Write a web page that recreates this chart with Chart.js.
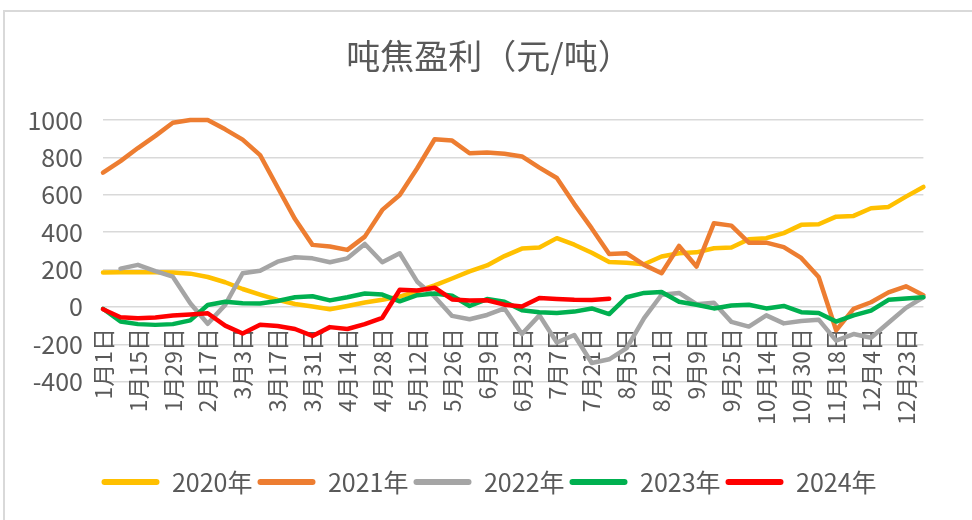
<!DOCTYPE html>
<html><head><meta charset="utf-8">
<script src="https://cdn.jsdelivr.net/npm/chart.js@4.4.1/dist/chart.umd.min.js"></script>
<style>
html,body{margin:0;padding:0;background:#fff;overflow:hidden;}
#wrap{position:relative;width:972px;height:520px;}
#frame{position:absolute;left:3px;top:10px;width:1200px;height:800px;border:2px solid #d9d9d9;box-sizing:border-box;pointer-events:none;}
canvas{position:absolute;left:0;top:0;}
</style></head><body>
<div id="wrap"><canvas id="c" width="972" height="520"></canvas><div id="frame"></div></div>
<script>
const chartTitle = '吨焦盈利（元/吨）';
const categories = ['1月1日','1月8日','1月15日','1月22日','1月29日','2月10日','2月17日','2月24日','3月3日','3月10日','3月17日','3月24日','3月31日','4月7日','4月14日','4月21日','4月28日','5月5日','5月12日','5月19日','5月26日','6月2日','6月9日','6月16日','6月23日','6月30日','7月7日','7月14日','7月21日','7月28日','8月5日','8月12日','8月21日','8月28日','9月9日','9月16日','9月25日','10月8日','10月14日','10月21日','10月30日','11月6日','11月18日','11月25日','12月4日','12月11日','12月23日','12月30日'];
const seriesNames = ['2020年','2021年','2022年','2023年','2024年'];
const y2020 = [184,186,186,185,184,178,160,132,96,66,38,16,2,-12,5,24,38,55,84,115,152,190,222,272,312,318,368,333,290,240,236,228,270,287,292,314,318,362,368,395,439,442,483,487,528,535,590,642];
const y2021 = [718,780,850,915,985,1000,1000,950,895,812,640,470,332,323,305,376,519,599,742,897,890,822,826,819,805,745,690,550,420,283,287,225,180,326,216,448,435,344,344,320,262,160,-125,-10,25,78,110,62];
const y2022 = [null,205,225,192,162,20,-90,11,180,194,242,266,260,239,260,337,239,287,135,55,-48,-66,-43,-8,-145,-45,-190,-150,-300,-280,-220,-60,65,75,15,22,-80,-105,-45,-88,-75,-68,-180,-145,-165,-85,-5,52];
const y2023 = [-10,-78,-92,-96,-92,-72,10,28,20,18,32,52,57,35,52,72,66,30,63,72,60,5,42,28,-18,-28,-32,-25,-8,-38,52,75,80,28,12,-8,8,12,-8,5,-28,-32,-78,-45,-20,38,45,52];
const y2024 = [-12,-55,-60,-56,-46,-40,-34,-100,-142,-95,-102,-118,-155,-108,-118,-92,-58,92,88,103,40,34,36,12,2,48,42,38,37,44];
const yTicks = [-400,-200,0,200,400,600,800,1000];

const seriesValues = [y2020, y2021, y2022, y2023, y2024];
const seriesColors = ['#FFC000','#ED7D31','#A5A5A5','#00B050','#FF0000'];
const textColor = '#595959';
Chart.defaults.font.family = '"Noto Sans CJK SC", "Noto Sans", sans-serif';

new Chart(document.getElementById('c'), {
  type: 'line',
  data: {
    labels: categories,
    datasets: seriesValues.map((vals, i) => ({
      label: seriesNames[i],
      data: vals,
      borderColor: seriesColors[i],
      backgroundColor: seriesColors[i],
      borderWidth: 4.5,
      pointRadius: 0,
      pointHoverRadius: 0,
      tension: 0,
      fill: false,
      borderJoinStyle: 'round',
      borderCapStyle: 'round',
      spanGaps: false,
      clip: false,
      order: seriesValues.length - i,
      xAxisID: 'x',
      yAxisID: 'y'
    }))
  },
  options: {
    responsive: false,
    animation: false,
    devicePixelRatio: 1,
    events: [],
    layout: { padding: { left: 6, right: 0, top: 0, bottom: 15.5 } },
    plugins: {
      title: {
        display: true, text: chartTitle, color: textColor,
        font: { size: 34, weight: 'normal' },
        padding: { top: 35.6, bottom: 43.6 }
      },
      legend: {
        position: 'bottom',
        labels: {
          color: textColor,
          font: { size: 25 },
          boxWidth: 58,
          boxHeight: 6,
          padding: 5,
          useBorderRadius: true,
          borderRadius: 3,
          sort: (a, b) => a.datasetIndex - b.datasetIndex,
          generateLabels(chart) {
            const items = Chart.defaults.plugins.legend.labels.generateLabels(chart);
            items.forEach(it => { it.lineWidth = 0; it.fillStyle = it.strokeStyle; });
            return items;
          }
        }
      },
      tooltip: { enabled: false }
    },
    scales: {
      x: {
        type: 'category',
        position: { y: 0 },
        offset: false,
        grid: { display: false, drawTicks: false },
        border: { display: false },
        ticks: {
          autoSkip: false, minRotation: 90, maxRotation: 90, padding: 21,
          color: textColor, font: { size: 23 },
          callback(v, i) { return i % 2 === 0 ? this.getLabelForValue(v) : ''; }
        }
      },
      y: {
        position: 'left',
        min: Math.min(...yTicks), max: Math.max(...yTicks),
        afterFit(s) { s.width = 97; },
        grid: { color: '#d9d9d9', lineWidth: 1.5, drawTicks: false },
        border: { display: false },
        ticks: {
          stepSize: yTicks[1] - yTicks[0], padding: 20, color: textColor, font: { size: 25 },
          callback: v => String(v)
        }
      },
      rightGap: {
        type: 'linear', axis: 'y', position: 'right', display: true,
        grid: { display: false, drawTicks: false },
        border: { display: false },
        ticks: { display: false },
        afterFit(s) { s.width = 27; }
      },
      gap: {
        type: 'linear', axis: 'x', position: 'bottom', display: true,
        grid: { display: false, drawTicks: false },
        border: { display: false },
        ticks: { display: false },
        afterFit(s) { s.height = 82.8; }
      }
    }
  }
});
</script>
</body></html>
